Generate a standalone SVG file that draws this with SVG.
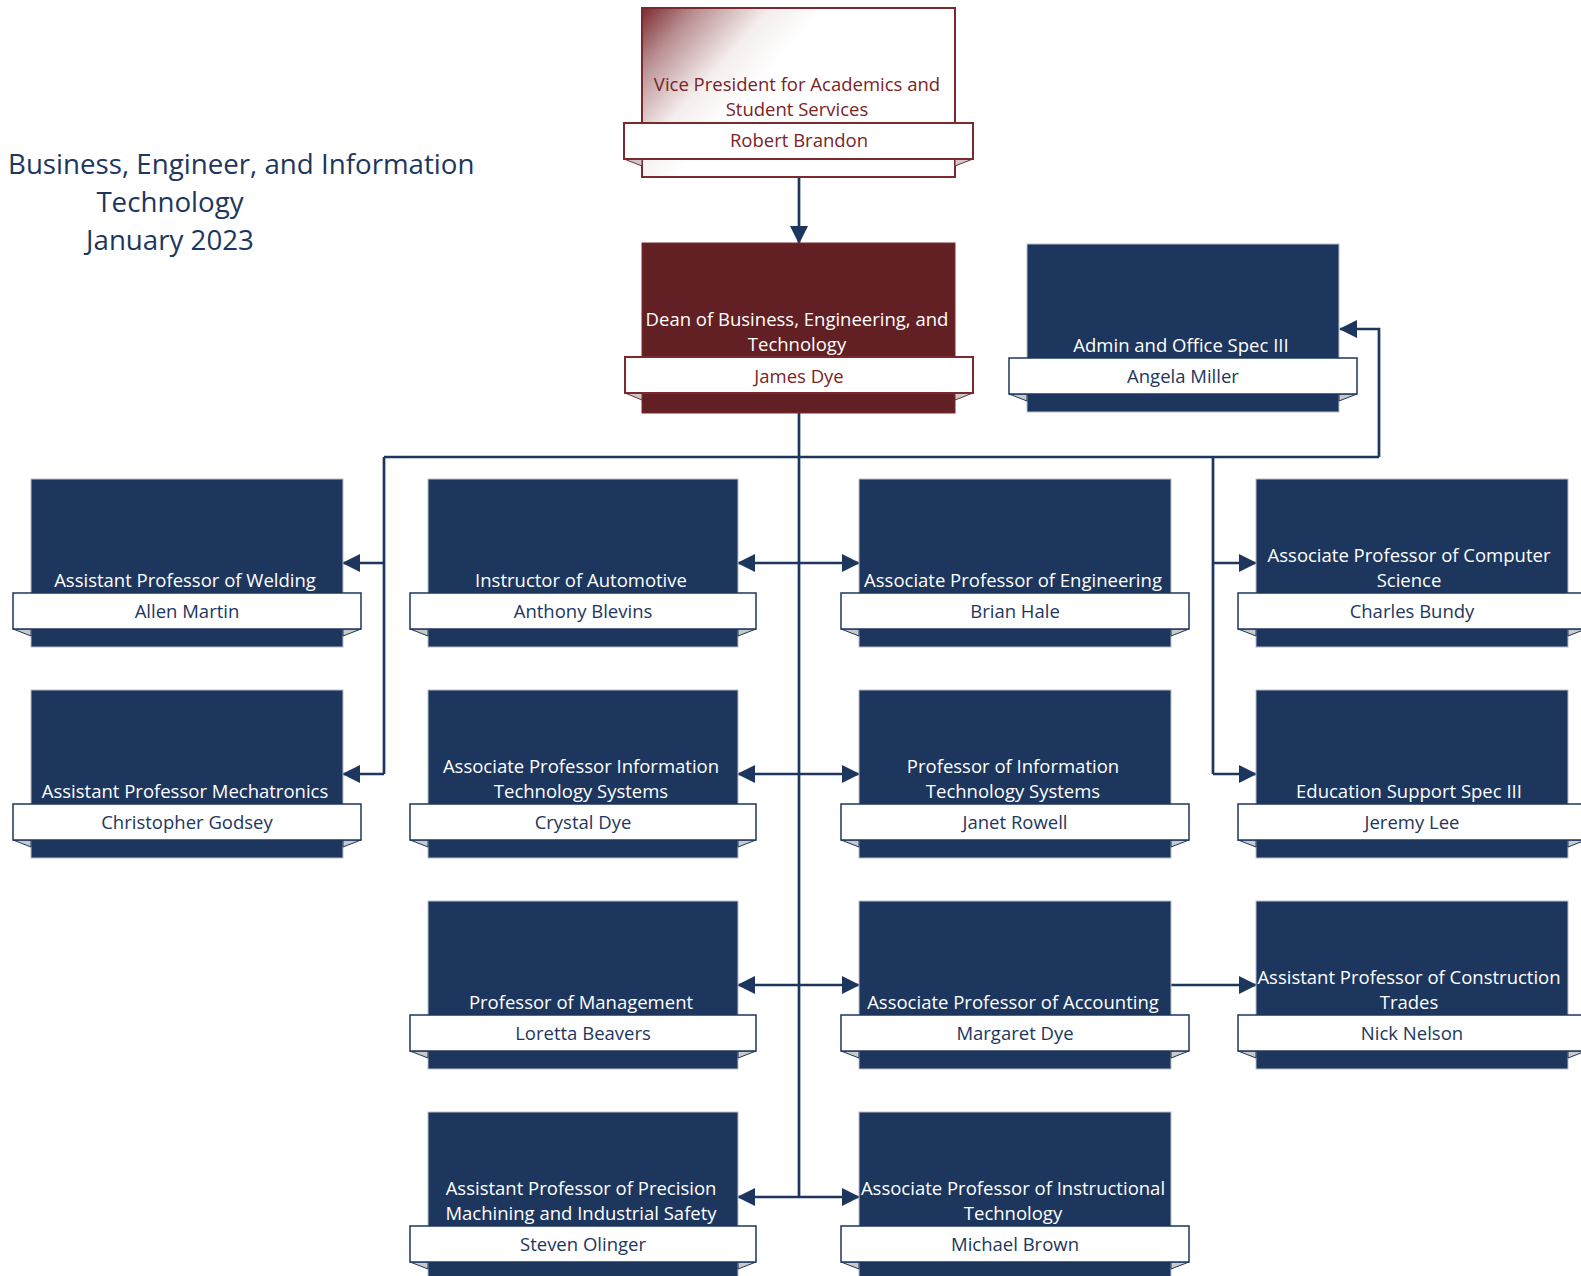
<svg xmlns="http://www.w3.org/2000/svg" width="1581" height="1276" viewBox="0 0 1581 1276">
<style>
.bg{fill:#ffffff}
.box{fill:#1d365e;stroke:#b9bec8;stroke-width:1}
.dean{fill:#632024;stroke:#7a2a2e;stroke-width:1}
.vp{fill:url(#vpg);stroke:#7a2a2e;stroke-width:2}
.ban{fill:#ffffff;stroke:#1d365e;stroke-width:1.5}
.banm{fill:#ffffff;stroke:#7a2a2e;stroke-width:2}
.fold{fill:#c9c9c9;stroke:#1d365e;stroke-width:1}
.foldm{fill:#c9c9c9;stroke:#7a2a2e;stroke-width:1}
.t{font-family:"Open Sans","Noto Sans",sans-serif;font-size:18.5px;text-anchor:middle;fill:#ffffff}
.n{font-family:"Open Sans","Noto Sans",sans-serif;font-size:18.5px;text-anchor:middle;fill:#1d365e}
.tm{font-family:"Open Sans","Noto Sans",sans-serif;font-size:18.5px;text-anchor:middle;fill:#7b2327}
.title{font-family:"Open Sans","Noto Sans",sans-serif;font-size:27.7px;fill:#1d365e}
.c{fill:none;stroke:#1d365e;stroke-width:2.7}
.a{marker-end:url(#ah)}
.aa{marker-start:url(#ah);marker-end:url(#ah)}
</style>
<defs>
<linearGradient id="vpg" gradientUnits="userSpaceOnUse" x1="642" y1="8" x2="745" y2="100">
<stop offset="0" stop-color="#7a2a2e"/>
<stop offset="0.3" stop-color="#b98f91"/>
<stop offset="0.7" stop-color="#f5eeee"/>
<stop offset="1" stop-color="#ffffff"/>
</linearGradient>
<marker id="ah" viewBox="0 0 18 18" markerWidth="18" markerHeight="18" refX="17" refY="9" orient="auto-start-reverse" markerUnits="userSpaceOnUse">
<path d="M0,0 L18,9 L0,18 z" fill="#1d365e"/>
</marker>
</defs>
<rect class="bg" x="0" y="0" width="1581" height="1276"/>

<g id="title">
<text class="title" x="8" y="174">Business, Engineer, and Information</text>
<text class="title" x="170" y="212" text-anchor="middle">Technology</text>
<text class="title" x="170" y="250" text-anchor="middle">January 2023</text>
</g>

<g id="connectors">
<path class="c a" d="M799,177 V243"/>
<path class="c" d="M799,413 V1197"/>
<path class="c" d="M384,457 H1379"/>
<path class="c a" d="M1379,457 V329 H1340"/>
<path class="c" d="M384,457 V774"/>
<path class="c a" d="M384,563 H343"/>
<path class="c a" d="M384,774 H343"/>
<path class="c" d="M1213,457 V774"/>
<path class="c a" d="M1213,563 H1256"/>
<path class="c a" d="M1213,774 H1256"/>
<path class="c aa" d="M738,563 H859"/>
<path class="c aa" d="M738,774 H859"/>
<path class="c aa" d="M738,985 H859"/>
<path class="c aa" d="M738,1197 H859"/>
<path class="c a" d="M1171,985 H1256"/>
</g>

<g id="vp">
<rect class="vp" x="642" y="8" width="313" height="169"/>
<polygon class="foldm" points="624,159 642,159 642,166"/>
<polygon class="foldm" points="973,159 955,159 955,166"/>
<rect class="banm" x="624" y="123" width="349" height="36"/>
<text class="tm" x="797" y="91">Vice President for Academics and</text>
<text class="tm" x="797" y="116">Student Services</text>
<text class="tm" x="799" y="147">Robert Brandon</text>
</g>

<g id="dean">
<rect class="dean" x="642" y="243" width="313" height="170"/>
<polygon class="foldm" points="625,393 642,393 642,400"/>
<polygon class="foldm" points="973,393 955,393 955,400"/>
<rect class="banm" x="625" y="357" width="348" height="36"/>
<text class="t" x="797" y="326">Dean of Business, Engineering, and</text>
<text class="t" x="797" y="351">Technology</text>
<text class="tm" x="799" y="383">James Dye</text>
</g>

<g id="admin">
<rect class="box" x="1027" y="244" width="312" height="168"/>
<polygon class="fold" points="1009,394 1027,394 1027,401"/>
<polygon class="fold" points="1357,394 1339,394 1339,401"/>
<rect class="ban" x="1009" y="358" width="348" height="36"/>
<text class="t" x="1181" y="352">Admin and Office Spec III</text>
<text class="n" x="1183" y="383">Angela Miller</text>
</g>

<g id="welding">
<rect class="box" x="31" y="479" width="312" height="168"/>
<polygon class="fold" points="13,629 31,629 31,636"/>
<polygon class="fold" points="361,629 343,629 343,636"/>
<rect class="ban" x="13" y="593" width="348" height="36"/>
<text class="t" x="185" y="587">Assistant Professor of Welding</text>
<text class="n" x="187" y="618">Allen Martin</text>
</g>

<g id="automotive">
<rect class="box" x="428" y="479" width="310" height="168"/>
<polygon class="fold" points="410,629 428,629 428,636"/>
<polygon class="fold" points="756,629 738,629 738,636"/>
<rect class="ban" x="410" y="593" width="346" height="36"/>
<text class="t" x="581" y="587">Instructor of Automotive</text>
<text class="n" x="583" y="618">Anthony Blevins</text>
</g>

<g id="engineering">
<rect class="box" x="859" y="479" width="312" height="168"/>
<polygon class="fold" points="841,629 859,629 859,636"/>
<polygon class="fold" points="1189,629 1171,629 1171,636"/>
<rect class="ban" x="841" y="593" width="348" height="36"/>
<text class="t" x="1013" y="587">Associate Professor of Engineering</text>
<text class="n" x="1015" y="618">Brian Hale</text>
</g>

<g id="computer">
<rect class="box" x="1256" y="479" width="312" height="168"/>
<polygon class="fold" points="1238,629 1256,629 1256,636"/>
<polygon class="fold" points="1586,629 1568,629 1568,636"/>
<rect class="ban" x="1238" y="593" width="348" height="36"/>
<text class="t" x="1409" y="562">Associate Professor of Computer</text>
<text class="t" x="1409" y="587">Science</text>
<text class="n" x="1412" y="618">Charles Bundy</text>
</g>

<g id="mechatronics">
<rect class="box" x="31" y="690" width="312" height="168"/>
<polygon class="fold" points="13,840 31,840 31,847"/>
<polygon class="fold" points="361,840 343,840 343,847"/>
<rect class="ban" x="13" y="804" width="348" height="36"/>
<text class="t" x="185" y="798">Assistant Professor Mechatronics</text>
<text class="n" x="187" y="829">Christopher Godsey</text>
</g>

<g id="infotech-assoc">
<rect class="box" x="428" y="690" width="310" height="168"/>
<polygon class="fold" points="410,840 428,840 428,847"/>
<polygon class="fold" points="756,840 738,840 738,847"/>
<rect class="ban" x="410" y="804" width="346" height="36"/>
<text class="t" x="581" y="773">Associate Professor Information</text>
<text class="t" x="581" y="798">Technology Systems</text>
<text class="n" x="583" y="829">Crystal Dye</text>
</g>

<g id="infotech-prof">
<rect class="box" x="859" y="690" width="312" height="168"/>
<polygon class="fold" points="841,840 859,840 859,847"/>
<polygon class="fold" points="1189,840 1171,840 1171,847"/>
<rect class="ban" x="841" y="804" width="348" height="36"/>
<text class="t" x="1013" y="773">Professor of Information</text>
<text class="t" x="1013" y="798">Technology Systems</text>
<text class="n" x="1015" y="829">Janet Rowell</text>
</g>

<g id="edsupport">
<rect class="box" x="1256" y="690" width="312" height="168"/>
<polygon class="fold" points="1238,840 1256,840 1256,847"/>
<polygon class="fold" points="1586,840 1568,840 1568,847"/>
<rect class="ban" x="1238" y="804" width="348" height="36"/>
<text class="t" x="1409" y="798">Education Support Spec III</text>
<text class="n" x="1412" y="829">Jeremy Lee</text>
</g>

<g id="management">
<rect class="box" x="428" y="901" width="310" height="168"/>
<polygon class="fold" points="410,1051 428,1051 428,1058"/>
<polygon class="fold" points="756,1051 738,1051 738,1058"/>
<rect class="ban" x="410" y="1015" width="346" height="36"/>
<text class="t" x="581" y="1009">Professor of Management</text>
<text class="n" x="583" y="1040">Loretta Beavers</text>
</g>

<g id="accounting">
<rect class="box" x="859" y="901" width="312" height="168"/>
<polygon class="fold" points="841,1051 859,1051 859,1058"/>
<polygon class="fold" points="1189,1051 1171,1051 1171,1058"/>
<rect class="ban" x="841" y="1015" width="348" height="36"/>
<text class="t" x="1013" y="1009">Associate Professor of Accounting</text>
<text class="n" x="1015" y="1040">Margaret Dye</text>
</g>

<g id="construction">
<rect class="box" x="1256" y="901" width="312" height="168"/>
<polygon class="fold" points="1238,1051 1256,1051 1256,1058"/>
<polygon class="fold" points="1586,1051 1568,1051 1568,1058"/>
<rect class="ban" x="1238" y="1015" width="348" height="36"/>
<text class="t" x="1409" y="984">Assistant Professor of Construction</text>
<text class="t" x="1409" y="1009">Trades</text>
<text class="n" x="1412" y="1040">Nick Nelson</text>
</g>

<g id="precision">
<rect class="box" x="428" y="1112" width="310" height="168"/>
<polygon class="fold" points="410,1262 428,1262 428,1269"/>
<polygon class="fold" points="756,1262 738,1262 738,1269"/>
<rect class="ban" x="410" y="1226" width="346" height="36"/>
<text class="t" x="581" y="1195">Assistant Professor of Precision</text>
<text class="t" x="581" y="1220">Machining and Industrial Safety</text>
<text class="n" x="583" y="1251">Steven Olinger</text>
</g>

<g id="instructional">
<rect class="box" x="859" y="1112" width="312" height="168"/>
<polygon class="fold" points="841,1262 859,1262 859,1269"/>
<polygon class="fold" points="1189,1262 1171,1262 1171,1269"/>
<rect class="ban" x="841" y="1226" width="348" height="36"/>
<text class="t" x="1013" y="1195">Associate Professor of Instructional</text>
<text class="t" x="1013" y="1220">Technology</text>
<text class="n" x="1015" y="1251">Michael Brown</text>
</g>
</svg>
